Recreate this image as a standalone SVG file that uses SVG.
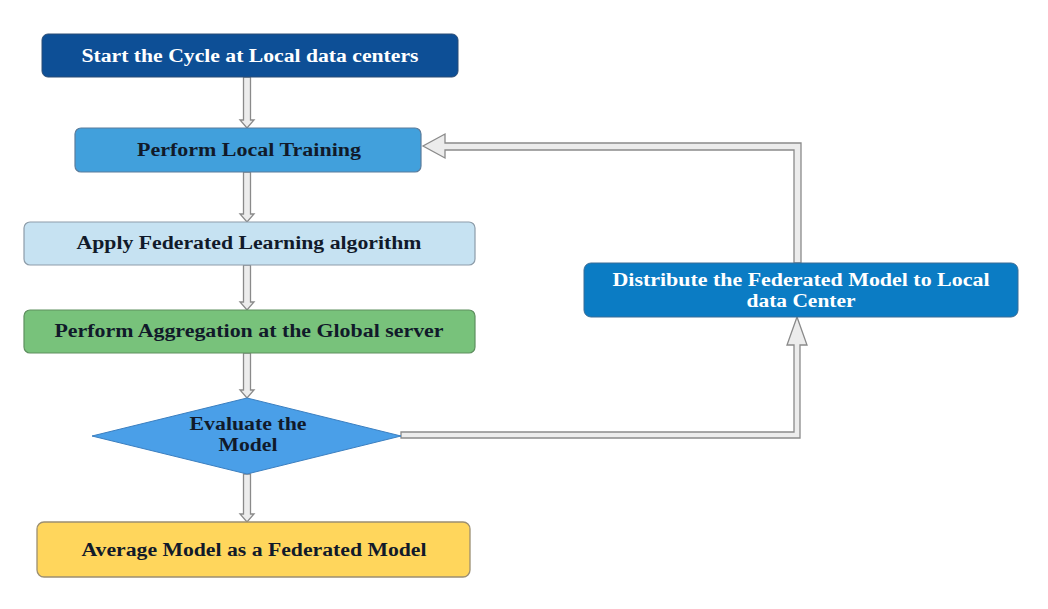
<svg xmlns="http://www.w3.org/2000/svg" width="1048" height="609" viewBox="0 0 1048 609">
<style>
.lbl{font-family:"Liberation Serif","Times New Roman",serif;font-weight:bold;font-size:18px;text-anchor:middle}
.lt{fill:#ffffff}
.dk{fill:#111a2a}
.arr{fill:#ececec;stroke:#8a8a8a;stroke-width:1.3;stroke-linejoin:miter}
</style>
<rect width="1048" height="609" fill="#ffffff"/>
<g id="connectors">
<path class="arr" d="M243.5,77 L250.5,77 L250.5,120 L254,120 L247,128 L240,120 L243.5,120 Z"/>
<path class="arr" d="M243.5,172 L250.5,172 L250.5,214 L254,214 L247,222 L240,214 L243.5,214 Z"/>
<path class="arr" d="M243.5,265 L250.5,265 L250.5,302 L254,302 L247,310 L240,302 L243.5,302 Z"/>
<path class="arr" d="M243.5,353 L250.5,353 L250.5,390 L254,390 L247,398 L240,390 L243.5,390 Z"/>
<path class="arr" d="M243.5,474 L250.5,474 L250.5,514 L254,514 L247,522 L240,514 L243.5,514 Z"/>
<path class="arr" d="M401,432 L794,432 L794,345 L787,345 L797,317 L807,345 L800,345 L800,438 L401,438 Z"/>
<path class="arr" d="M801,263 L801,143 L445,143 L445,134 L423,146 L445,158 L445,150 L794,150 L794,263 Z"/>
</g>
<g id="start">
<rect x="42" y="34" width="416" height="43" rx="6" fill="#0d4f96" stroke="#2b4c74" stroke-width="1"/>
<text class="lbl lt" x="250" y="62" textLength="337" lengthAdjust="spacingAndGlyphs">Start the Cycle at Local data centers</text>
</g>
<g id="training">
<rect x="75" y="128" width="346" height="44" rx="6" fill="#41a0dc" stroke="#5b7c9c" stroke-width="1.2"/>
<text class="lbl dk" x="249" y="156" textLength="224" lengthAdjust="spacingAndGlyphs">Perform Local Training</text>
</g>
<g id="apply">
<rect x="24" y="222" width="451" height="43" rx="6" fill="#c6e2f2" stroke="#8d9ca9" stroke-width="1.2"/>
<text class="lbl dk" x="249" y="249" textLength="345" lengthAdjust="spacingAndGlyphs">Apply Federated Learning algorithm</text>
</g>
<g id="aggregation">
<rect x="24" y="310" width="451" height="43" rx="6" fill="#78c27b" stroke="#5e8f5f" stroke-width="1.2"/>
<text class="lbl dk" x="249" y="337" textLength="389" lengthAdjust="spacingAndGlyphs">Perform Aggregation at the Global server</text>
</g>
<g id="evaluate">
<polygon points="247,398 401,436 247,474 92,436" fill="#4a9fe8" stroke="#3b7fc0" stroke-width="1"/>
<text class="lbl dk" x="248" y="430" textLength="117" lengthAdjust="spacingAndGlyphs">Evaluate the</text>
<text class="lbl dk" x="248" y="451" textLength="59" lengthAdjust="spacingAndGlyphs">Model</text>
</g>
<g id="average">
<rect x="37" y="522" width="433" height="55" rx="7" fill="#ffd65c" stroke="#9c8f72" stroke-width="1.3"/>
<text class="lbl dk" x="254" y="556" textLength="345" lengthAdjust="spacingAndGlyphs">Average Model as a Federated Model</text>
</g>
<g id="distribute">
<rect x="584" y="263" width="434" height="54" rx="7" fill="#0b7cc4" stroke="#3a6d96" stroke-width="1"/>
<text class="lbl lt" x="801" y="286" textLength="377" lengthAdjust="spacingAndGlyphs">Distribute the Federated Model to Local</text>
<text class="lbl lt" x="801" y="307" textLength="109" lengthAdjust="spacingAndGlyphs">data Center</text>
</g>
</svg>
